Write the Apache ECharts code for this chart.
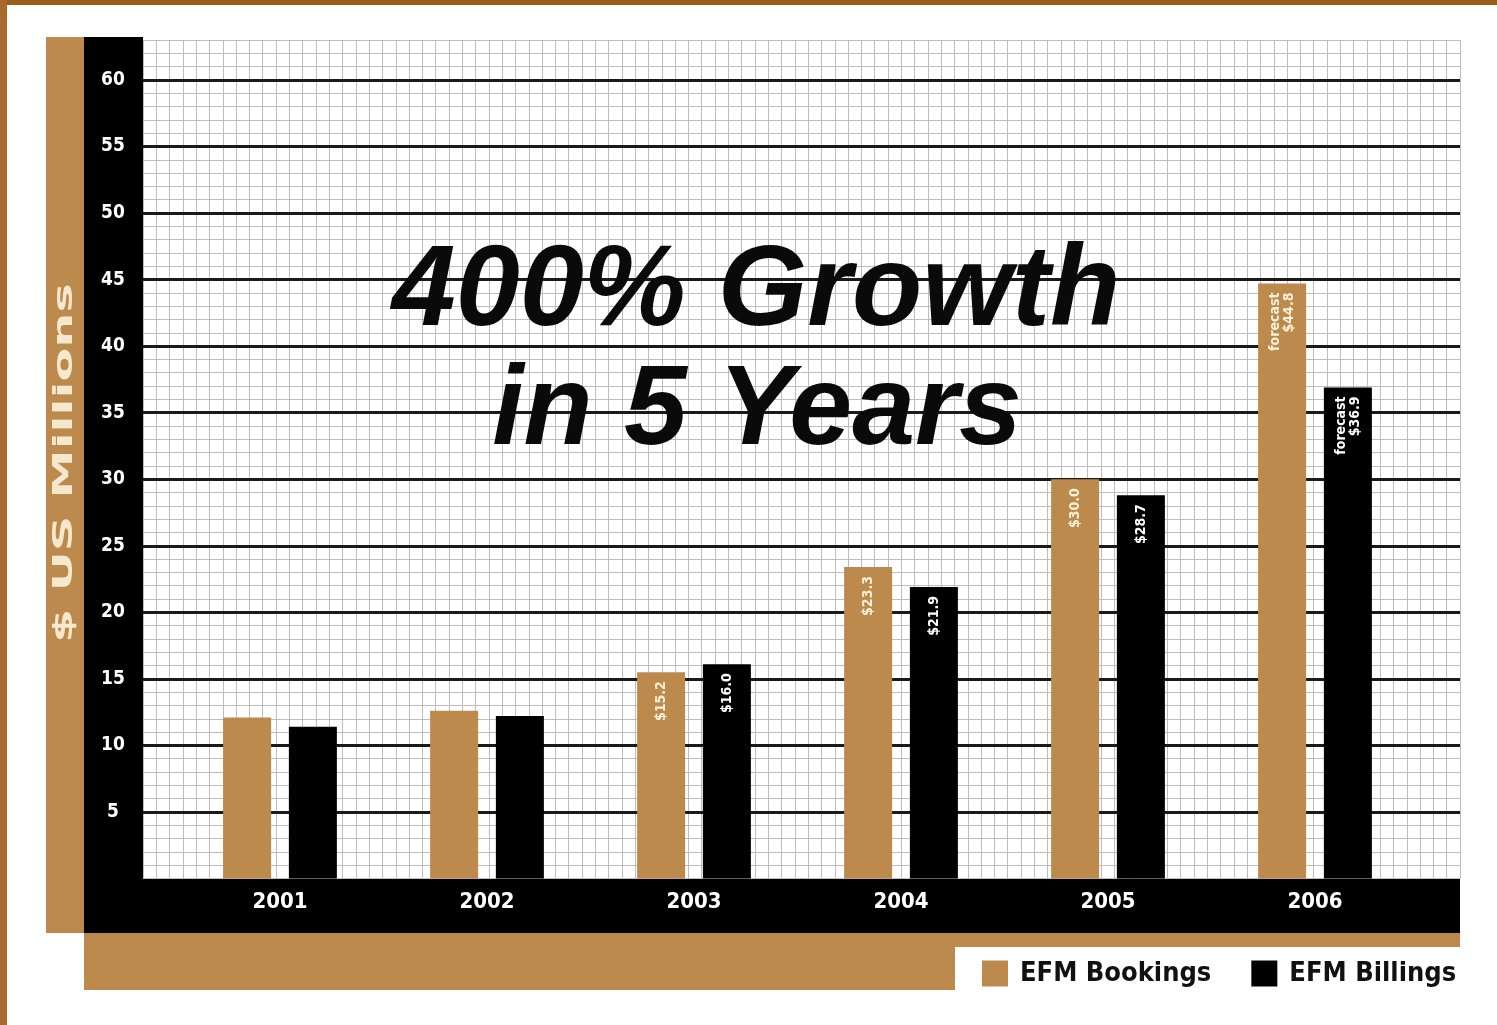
<!DOCTYPE html>
<html>
<head>
<meta charset="utf-8">
<script src="https://cdn.jsdelivr.net/npm/echarts@6/dist/echarts.min.js"></script>
<style>
html,body{margin:0;padding:0;background:#fff;}
#chart{width:1497px;height:1025px;}
</style>
</head>
<body>
<div id="chart"></div>
<script>
var years = ['2001', '2002', '2003', '2004', '2005', '2006'];
var bookings = [12.1, 12.6, 15.5, 23.4, 30.0, 44.7];
var billings = [11.4, 12.2, 16.1, 21.9, 28.8, 36.9];
var bookingLabels = ['', '', '$15.2', '$23.3', '$30.0', 'forecast\n$44.8'];
var billingLabels = ['', '', '$16.0', '$21.9', '$28.7', 'forecast\n$36.9'];
var yTicks = [5, 10, 15, 20, 25, 30, 35, 40, 45, 50, 55, 60];

var TAN = '#bb8a4c';
var NARROW = '"Liberation Sans Narrow", "DejaVu Sans Condensed", "Liberation Sans", sans-serif';

var chart = echarts.init(document.getElementById('chart'));

var option = {
  backgroundColor: '#ffffff',
  animation: false,
  legend: {
    data: ['EFM Bookings', 'EFM Billings'],
    left: 977, top: 955,
    icon: 'rect', itemWidth: 26, itemHeight: 26, itemGap: 40,
    textStyle: {fontFamily: NARROW, fontWeight: 'bold', fontSize: 27, color: '#111', padding: [0, 0, 0, 7]}
  },
  grid: [
    {left: 143, right: 37, top: 40, bottom: 146.5},
    {left: 176.5, right: 78.5, top: 40, bottom: 146.5}
  ],
  xAxis: [
    {type: 'value', gridIndex: 0, min: 0, max: 99, interval: 1, z: 0,
     axisLine: {show: false}, axisTick: {show: false}, axisLabel: {show: false},
     splitLine: {show: true, lineStyle: {color: '#bdbdbd', width: 1}}},
    {type: 'category', gridIndex: 1, data: years,
     axisLine: {show: false}, axisTick: {show: false},
     axisLabel: {color: '#ffffff', fontFamily: NARROW, fontWeight: 'bold', fontSize: 22, margin: 13}}
  ],
  yAxis: [
    {type: 'value', gridIndex: 0, min: 0, max: 63, interval: 1, z: 0,
     axisLine: {show: false}, axisTick: {show: false}, axisLabel: {show: false},
     splitLine: {show: true, lineStyle: {color: '#bdbdbd', width: 1}}},
    {type: 'value', gridIndex: 0, position: 'left', min: 0, max: 63, interval: 5, z: 1,
     axisLine: {show: false}, axisTick: {show: false},
     axisLabel: {show: true, showMinLabel: false, showMaxLabel: false, align: 'center', margin: 30,
       color: '#ffffff', fontFamily: NARROW, fontWeight: 'bold', fontSize: 19,
       formatter: function (v) { return yTicks.indexOf(v) >= 0 ? String(v) : ''; }},
     splitLine: {show: true, showMinLine: false, showMaxLine: false, lineStyle: {color: '#1a1a1a', width: 3}}},
    {type: 'value', gridIndex: 1, min: 0, max: 63, interval: 5, show: false,
     splitLine: {show: false}}
  ],
  series: [
    {name: 'EFM Bookings', type: 'bar', xAxisIndex: 1, yAxisIndex: 2, z: 3,
     data: bookings, barWidth: 48, barGap: '37%', itemStyle: {color: TAN},
     label: {show: true, position: 'insideTop', rotate: 90, align: 'right', verticalAlign: 'middle',
       distance: 9, color: '#fbf0d8', fontFamily: NARROW, fontWeight: 'bold', fontSize: 14, lineHeight: 14,
       formatter: function (p) { return bookingLabels[p.dataIndex]; }}},
    {name: 'EFM Billings', type: 'bar', xAxisIndex: 1, yAxisIndex: 2, z: 3,
     data: billings, barWidth: 48, barGap: '37%', itemStyle: {color: '#000000'},
     label: {show: true, position: 'insideTop', rotate: 90, align: 'right', verticalAlign: 'middle',
       distance: 9, color: '#ffffff', fontFamily: NARROW, fontWeight: 'bold', fontSize: 14, lineHeight: 14,
       formatter: function (p) { return billingLabels[p.dataIndex]; }}}
  ],
  graphic: [
    {type: 'rect', z: -1, shape: {x: 0, y: 0, width: 1497, height: 5}, style: {fill: '#9c5c1c'}},
    {type: 'rect', z: -1, shape: {x: 0, y: 0, width: 7, height: 1025}, style: {fill: '#a8692a'}},
    {type: 'rect', z: -1, shape: {x: 46, y: 37, width: 38, height: 896}, style: {fill: TAN}},
    {type: 'rect', z: -1, shape: {x: 84, y: 37, width: 59, height: 896}, style: {fill: '#000'}},
    {type: 'rect', z: -1, shape: {x: 84, y: 878, width: 1376, height: 55}, style: {fill: '#000'}},
    {type: 'rect', z: -1, shape: {x: 84, y: 933, width: 1376, height: 14}, style: {fill: TAN}},
    {type: 'rect', z: -1, shape: {x: 84, y: 947, width: 871, height: 43}, style: {fill: TAN}},
    {type: 'text', z: 100, x: 65, y: 463, rotation: Math.PI / 2, scaleX: 1.9,
     style: {text: '$ US Millions', fill: '#f6e8cc', font: 'bold 26px "DejaVu Sans", sans-serif',
       align: 'center', verticalAlign: 'middle'}},
    {type: 'text', z: 100, x: 756, y: 293,
     style: {text: '400% Growth', fill: '#0a0a0a', font: 'italic bold 115px "Liberation Sans", Arial, sans-serif',
       align: 'center', verticalAlign: 'middle'}},
    {type: 'text', z: 100, x: 757, y: 413,
     style: {text: 'in 5 Years', fill: '#0a0a0a', font: 'italic bold 113px "Liberation Sans", Arial, sans-serif',
       align: 'center', verticalAlign: 'middle'}}
  ]
};
chart.setOption(option);
</script>
</body>
</html>
